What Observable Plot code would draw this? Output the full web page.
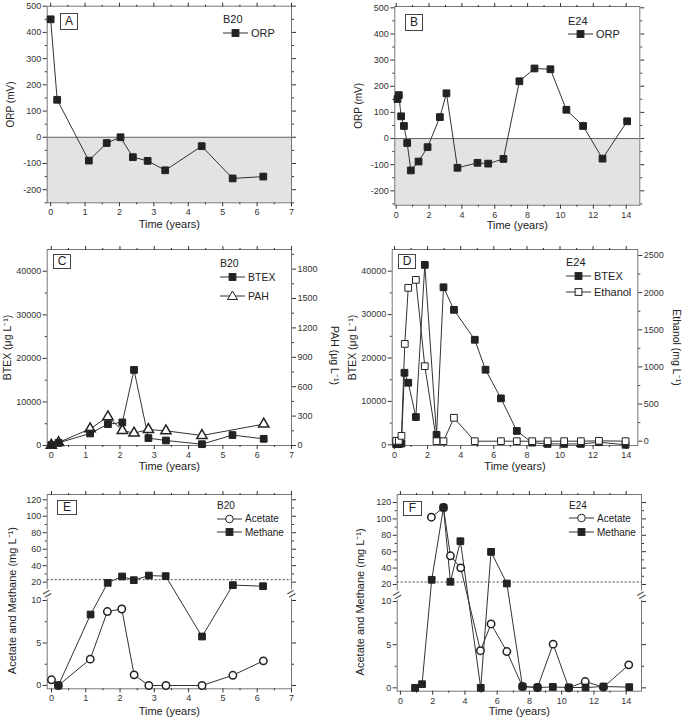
<!DOCTYPE html>
<html><head><meta charset="utf-8">
<script src="https://cdn.jsdelivr.net/npm/d3@7"></script>
<script src="https://cdn.jsdelivr.net/npm/@observablehq/plot@0.6"></script>
<style>
body{margin:0;background:#fff;font-family:"Liberation Sans",Arial,sans-serif;}
#root{position:relative;width:690px;height:720px;overflow:hidden;}
.panel{position:absolute;}
.tag{position:absolute;border:1px solid #444;font-size:12px;color:#222;text-align:center;box-sizing:border-box;background:#fff;}
.lg{position:absolute;color:#222;white-space:nowrap;display:flex;align-items:center;}
.lgt{position:absolute;color:#222;white-space:nowrap;}
</style></head>
<body><div id="root"></div>
<script>
// ---------- DATA ----------
// Panel A: B20 ORP
const b20OrpTime = [0, 0.19, 1.11, 1.63, 2.03, 2.39, 2.82, 3.33, 4.39, 5.29, 6.18];
const b20Orp = [450, 143, -89, -22, 0, -76, -90, -126, -34, -157, -150];
// Panel B: E24 ORP
const e24OrpTime = [0.08, 0.16, 0.30, 0.47, 0.67, 0.89, 1.36, 1.91, 2.66, 3.06, 3.73, 4.95, 5.60, 6.53, 7.50, 8.42, 9.39, 10.36, 11.38, 12.56, 14.06];
const e24Orp = [151, 166, 85, 48, -17, -122, -88, -33, 82, 173, -112, -93, -96, -78, 219, 268, 265, 110, 48, -77, 66];
// Panel C: B20 BTEX (ug/L) and PAH (ug/L)
const b20BtexTime = [0, 0.21, 1.13, 1.65, 2.07, 2.41, 2.83, 3.34, 4.39, 5.28, 6.19];
const b20Btex = [100, 600, 2760, 4900, 5300, 17350, 1700, 1150, 300, 2400, 1530];
const b20PahTime = [0, 0.21, 1.13, 1.65, 2.07, 2.41, 2.83, 3.34, 4.39, 6.19];
const b20Pah = [3, 30, 170, 293, 153, 126, 163, 150, 102, 218];
// Panel D: E24 BTEX (ug/L) and Ethanol (mg/L)
const e24BtexTime = [0.1, 0.26, 0.42, 0.6, 0.83, 1.29, 1.83, 2.54, 2.96, 3.59, 4.85, 5.5, 6.43, 7.39, 8.32, 9.25, 10.25, 11.26, 12.35, 13.96];
const e24Btex = [150, 150, 300, 16600, 14300, 6400, 41450, 2300, 36300, 31100, 24200, 17300, 10700, 3200, 500, 200, 200, 200, 600, 0];
const e24EthTime = [0.1, 0.26, 0.42, 0.62, 0.83, 1.29, 1.83, 2.54, 2.96, 3.59, 4.85, 6.43, 7.39, 8.32, 9.25, 10.25, 11.26, 12.35, 13.96];
const e24Eth = [5, 5, 72, 1310, 2065, 2172, 1010, 0, 0, 315, 0, 0, 0, 0, 0, 0, 0, 5, 0];
// Panel E: B20 acetate and methane (mg/L)
const b20AcetTime = [0, 0.2, 1.13, 1.63, 2.05, 2.41, 2.84, 3.34, 4.39, 5.29, 6.18];
const b20Acet = [0.67, 0, 3.1, 8.7, 9.0, 1.25, 0, 0, 0, 1.2, 2.9];
const b20MethTime = [0.2, 1.14, 1.64, 2.06, 2.4, 2.84, 3.33, 4.39, 5.29, 6.17];
const b20Meth = [0, 8.35, 19.2, 26.9, 22.4, 28, 27.3, 5.76, 16.4, 15.1];
// Panel F: E24 acetate and methane (mg/L)
const e24AcetTime = [1.92, 2.67, 3.10, 3.74, 4.96, 5.62, 6.6, 7.57, 8.5, 9.47, 10.44, 11.46, 12.59, 14.16];
const e24Acet = [102.1, 113.9, 55, 40.3, 4.3, 7.4, 4.2, 0.15, 0.04, 5.06, 0, 0.73, 0.08, 2.66];
const e24MethTime = [0.91, 1.34, 1.94, 2.67, 3.10, 3.72, 4.98, 5.62, 6.6, 7.57, 8.5, 9.45, 10.44, 11.48, 12.59, 14.19];
const e24Meth = [0, 0.42, 25.7, 113.9, 23.3, 72.8, 0, 59.8, 21.2, 0.15, 0.04, 0.1, 0.04, 0.04, 0.15, 0.08];
// Methane solubility reference line (mg/L)
const methaneLine = [23];

// Tick values
const ticks7 = [0,1,2,3,4,5,6,7], minor7 = [0.5,1.5,2.5,3.5,4.5,5.5,6.5];
const ticks14 = [0,2,4,6,8,10,12,14], minor14 = [1,3,5,7,9,11,13];
const orpTicks = [-200,-100,0,100,200,300,400,500], orpMinor = [-250,-150,-50,50,150,250,350,450];
const btexTicks = [0,10000,20000,30000,40000], btexMinor = [5000,15000,25000,35000];
const pahTicks = [0,300,600,900,1200,1500,1800], pahMinor = [150,450,750,1050,1350,1650,1950];
const ethTicks = [0,500,1000,1500,2000,2500], ethMinor = [250,750,1250,1750,2250];
const amTicks = [0,5,10,20,40,60,80,100,120], amMinor = [2.5,7.5,30,50,70,90,110];

// ---------- HELPERS ----------
const root = document.getElementById("root");
const INK = "#222", LINE = "#333", FRAME = "#777";
const FONT = "Liberation Sans, Arial, sans-serif";
const fmt = d => String(d);

function sq(x, y, filled) { return Plot.dot(y, {x, y, symbol: "square", r: 3.8, fill: filled ? INK : "#fff", stroke: INK, strokeWidth: 1}); }
function ln(x, y) { return Plot.line(y, {x, y, stroke: LINE, strokeWidth: 1}); }

function axes(c) {
  const fmtNone = () => "";
  const yT = c.yMap ? c.yTicks.map(c.yMap) : c.yTicks;
  const yM = c.yMap ? c.yMinor.map(c.yMap) : c.yMinor;
  const yF = c.yMap ? (d => String(Math.round(c.yMap.invert(d)))) : fmt;
  const a = [
    Plot.axisX({anchor: "bottom", ticks: c.xTicks, tickSize: 4, tickPadding: 2, tickFormat: fmt, label: null, color: "#333", fontSize: 9}),
    Plot.axisX({anchor: "bottom", ticks: c.xMinor, tickSize: 2, tickFormat: fmtNone, label: null, color: "#333"}),
    Plot.axisX({anchor: "top", ticks: c.xTicks, tickSize: 4, tickFormat: fmtNone, label: null, color: "#333"}),
    Plot.axisX({anchor: "top", ticks: c.xMinor, tickSize: 2, tickFormat: fmtNone, label: null, color: "#333"}),
    Plot.axisY({anchor: "left", ticks: yT, tickSize: 4, tickPadding: 2, tickFormat: yF, label: null, color: "#333", fontSize: 9}),
    Plot.axisY({anchor: "left", ticks: yM, tickSize: 2, tickFormat: fmtNone, label: null, color: "#333"})
  ];
  if (c.rTicks) {
    a.push(Plot.axisY({anchor: "right", ticks: c.rTicks, tickSize: 4, tickPadding: 2, tickFormat: c.rFormat, label: null, color: "#333", fontSize: 9}));
    a.push(Plot.axisY({anchor: "right", ticks: c.rMinor, tickSize: 2, tickFormat: fmtNone, label: null, color: "#333"}));
  } else {
    a.push(Plot.axisY({anchor: "right", ticks: yT, tickSize: 4, tickFormat: fmtNone, label: null, color: "#333"}));
    a.push(Plot.axisY({anchor: "right", ticks: yM, tickSize: 2, tickFormat: fmtNone, label: null, color: "#333"}));
  }
  a.push(Plot.text([c.xLabel], {frameAnchor: "bottom", dy: c.xLabelDy, fontSize: 11, fill: INK, textAnchor: "middle", text: d => d}));
  a.push(Plot.text([c.yLabel], {frameAnchor: "left", dx: -c.yLabelDx, dy: c.yLabelDy || 0, rotate: -90, textAnchor: "middle", fontSize: c.yLabelFs || 10.5, fill: INK, text: d => d}));
  if (c.rLabel) a.push(Plot.text([c.rLabel], {frameAnchor: "right", dx: c.rLabelDx, dy: c.rLabelDy || 0, rotate: 90, textAnchor: "middle", fontSize: 10.5, fill: INK, text: d => d}));
  return a;
}

function panel(c) {
  const svg = Plot.plot({
    width: c.width, height: c.height,
    marginLeft: c.ml, marginRight: c.mr, marginTop: c.mt, marginBottom: c.mb,
    style: {fontFamily: FONT, fontSize: "9px", color: "#333", background: "transparent", overflow: "visible"},
    x: {domain: c.xDomain},
    y: {domain: c.yDomain},
    marks: [...(c.under || []), Plot.frame({stroke: FRAME}), ...axes(c), ...c.marks]
  });
  const d = document.createElement("div");
  d.className = "panel";
  d.style.left = c.left + "px"; d.style.top = c.top + "px";
  d.appendChild(svg);
  root.appendChild(d);
}

function tag(txt, x, y, w, h) {
  const d = document.createElement("div");
  d.className = "tag"; d.textContent = txt;
  Object.assign(d.style, {left: x + "px", top: y + "px", width: w + "px", height: h + "px", lineHeight: (h - 2) + "px"});
  root.appendChild(d);
}
function symSvg(type) {
  const cx = 12.5, cy = 6;
  let s = "";
  if (type === "sqF") s = `<rect x="${cx-3.4}" y="${cy-3.4}" width="6.8" height="6.8" fill="${INK}" stroke="${INK}"/>`;
  if (type === "sqO") s = `<rect x="${cx-3.4}" y="${cy-3.4}" width="6.8" height="6.8" fill="#fff" stroke="${INK}"/>`;
  if (type === "triO") s = `<path d="M${cx},${cy-5}L${cx+5},${cy+3.5}L${cx-5},${cy+3.5}Z" fill="#fff" stroke="${INK}"/>`;
  if (type === "cirO") s = `<circle cx="${cx}" cy="${cy}" r="3.8" fill="#fff" stroke="${INK}"/>`;
  return `<svg width="25" height="12" style="overflow:visible"><line x1="0" x2="25" y1="${cy}" y2="${cy}" stroke="${LINE}"/>${s}</svg>`;
}
function legend(title, x, yTitle, entries, fs) {
  const t = document.createElement("div");
  t.className = "lgt"; t.textContent = title;
  Object.assign(t.style, {left: x + "px", top: (yTitle - fs * 0.6) + "px", fontSize: fs + "px"});
  root.appendChild(t);
  for (const e of entries) {
    const d = document.createElement("div");
    d.className = "lg";
    d.innerHTML = symSvg(e.sym) + `<span style="margin-left:3px;font-size:${fs}px">${e.label}</span>`;
    Object.assign(d.style, {left: x + "px", top: (e.y - 6) + "px", height: "12px"});
    root.appendChild(d);
  }
}

// ---------- PANEL A ----------
const xA = [-0.1, 7], yA = [-250, 500];
panel({
  left: 0, top: 0, width: 345, height: 235, ml: 46.7, mr: 54, mt: 5.7, mb: 32.7,
  xDomain: xA, yDomain: yA, xTicks: ticks7, xMinor: minor7, yTicks: orpTicks, yMinor: orpMinor,
  xLabel: "Time (years)", xLabelDy: 25, yLabel: "ORP (mV)", yLabelDx: 36, yLabelFs: 10,
  under: [
    Plot.rect([0], {x1: () => xA[0], x2: () => xA[1], y1: () => yA[0], y2: () => 0, fill: "#e3e3e3"}),
    Plot.ruleY([0], {stroke: "#666", strokeWidth: 1})
  ],
  marks: [ln(b20OrpTime, b20Orp), sq(b20OrpTime, b20Orp, true)]
});
// ---------- PANEL B ----------
const xB = [-0.085, 14.83], yB = [-255, 505];
panel({
  left: 345, top: 0, width: 345, height: 235, ml: 49.3, mr: 50.7, mt: 6, mb: 30.3,
  xDomain: xB, yDomain: yB, xTicks: ticks14, xMinor: minor14, yTicks: orpTicks, yMinor: orpMinor,
  xLabel: "Time (years)", xLabelDy: 24, yLabel: "ORP (mV)", yLabelDx: 36, yLabelFs: 10,
  under: [
    Plot.rect([0], {x1: () => xB[0], x2: () => xB[1], y1: () => yB[0], y2: () => 0, fill: "#e3e3e3"}),
    Plot.ruleY([0], {stroke: "#666", strokeWidth: 1})
  ],
  marks: [ln(e24OrpTime, e24Orp), sq(e24OrpTime, e24Orp, true)]
});
// ---------- PANEL C ----------
const yC = [0, 45000], pahDomain = [0, 2000];
const pahToY = d3.scaleLinear().domain(pahDomain).range(yC);
const b20PahY = b20Pah.map(pahToY);
panel({
  left: 0, top: 235, width: 345, height: 240, ml: 46.7, mr: 54, mt: 14, mb: 30,
  xDomain: [-0.12, 7], yDomain: yC, xTicks: ticks7, xMinor: minor7, yTicks: btexTicks, yMinor: btexMinor,
  rTicks: pahTicks.map(pahToY), rMinor: pahMinor.map(pahToY), rFormat: d => String(Math.round(pahToY.invert(d))),
  xLabel: "Time (years)", xLabelDy: 24, yLabel: "BTEX (μg L⁻¹)", yLabelDx: 40,
  rLabel: "PAH (μg L⁻¹)", rLabelDx: 43, rLabelDy: 8,
  marks: [
    ln(b20BtexTime, b20Btex), ln(b20PahTime, b20PahY),
    Plot.dot(b20PahY, {x: b20PahTime, y: b20PahY, symbol: "triangle", r: 3.8, fill: "#fff", stroke: INK}),
    sq(b20BtexTime, b20Btex, true)
  ]
});
// ---------- PANEL D ----------
const yD = [-160, 45000], ethDomain = [-58, 2581];
const ethToY = d3.scaleLinear().domain(ethDomain).range(yD);
const e24EthY = e24Eth.map(ethToY);
panel({
  left: 345, top: 235, width: 345, height: 240, ml: 46.7, mr: 52.7, mt: 14, mb: 30,
  xDomain: [-0.14, 14.7], yDomain: yD, xTicks: ticks14, xMinor: minor14, yTicks: btexTicks, yMinor: btexMinor,
  rTicks: ethTicks.map(ethToY), rMinor: ethMinor.map(ethToY), rFormat: d => String(Math.round(ethToY.invert(d))),
  xLabel: "Time (years)", xLabelDy: 24, yLabel: "BTEX (μg L⁻¹)", yLabelDx: 40,
  rLabel: "Ethanol (mg L⁻¹)", rLabelDx: 39,
  marks: [
    ln(e24EthTime, e24EthY), ln(e24BtexTime, e24Btex),
    sq(e24BtexTime, e24Btex, true), sq(e24EthTime, e24EthY, false)
  ]
});
// ---------- PANELS E, F (broken y axis: 0–10 lower segment, >14 upper segment) ----------
// Each broken axis maps concentrations onto a continuous "virtual" coordinate; ticks are mapped the same way.
const brkE = d3.scaleLinear().domain([-0.39, 10, 14, 126.4]).range([-213.3, -125, -111.6, -19]);
const brkF = d3.scaleLinear().domain([-0.39, 10, 14, 129.8]).range([-215.7, -126, -113.9, -19]);
function breakMarks(xd, brk) {
  return Plot.text(xd, {x: d => d, y: () => brk(12), text: () => "=", rotate: -30, fontSize: 15, fill: "#555", stroke: "#fff", strokeWidth: 3, paintOrder: "stroke"});
}
const xE = [-0.125, 7];
panel({
  left: 0, top: 475, width: 345, height: 245, ml: 46.7, mr: 54, mt: 19, mb: 31.7,
  xDomain: xE, yDomain: brkE.domain().filter((d, i, a) => i === 0 || i === a.length - 1).map(brkE), yMap: brkE,
  xTicks: ticks7, xMinor: minor7, yTicks: amTicks, yMinor: amMinor,
  xLabel: "Time (years)", xLabelDy: 26, yLabel: "Acetate and Methane (mg L⁻¹)", yLabelDx: 35, yLabelDy: 9, yLabelFs: 11,
  marks: [
    Plot.ruleY(methaneLine.map(brkE), {stroke: "#444", strokeDasharray: "2,2", strokeWidth: 1}),
    ln(b20AcetTime, b20Acet.map(brkE)), ln(b20MethTime, b20Meth.map(brkE)),
    Plot.dot(b20Acet, {x: b20AcetTime, y: b20Acet.map(brkE), r: 3.7, fill: "#fff", stroke: INK}),
    sq(b20MethTime, b20Meth.map(brkE), true),
    breakMarks(xE, brkE)
  ]
});
const xF = [-0.2, 14.95];
panel({
  left: 345, top: 475, width: 345, height: 245, ml: 51.7, mr: 49, mt: 19, mb: 29.3,
  xDomain: xF, yDomain: brkF.domain().filter((d, i, a) => i === 0 || i === a.length - 1).map(brkF), yMap: brkF,
  xTicks: ticks14, xMinor: minor14, yTicks: amTicks, yMinor: amMinor,
  xLabel: "Time (years)", xLabelDy: 24, yLabel: "Acetate and Methane (mg L⁻¹)", yLabelDx: 37, yLabelDy: 9, yLabelFs: 11,
  marks: [
    Plot.ruleY(methaneLine.map(brkF), {stroke: "#444", strokeDasharray: "2,2", strokeWidth: 1}),
    ln(e24AcetTime, e24Acet.map(brkF)), ln(e24MethTime, e24Meth.map(brkF)),
    Plot.dot(e24Acet, {x: e24AcetTime, y: e24Acet.map(brkF), r: 3.7, fill: "#fff", stroke: INK}),
    sq(e24MethTime, e24Meth.map(brkF), true),
    breakMarks(xF, brkF)
  ]
});

// ---------- TAGS & LEGENDS ----------
tag("A", 60, 13, 18, 17);
tag("B", 405, 14, 18, 17);
tag("C", 53, 254, 18, 15);
tag("D", 398, 254, 18, 15);
tag("E", 57, 500, 20, 15);
tag("F", 403, 501, 19, 15);

legend("B20", 223, 20, [{sym: "sqF", label: "ORP", y: 33}], 11);
legend("E24", 568, 22, [{sym: "sqF", label: "ORP", y: 34.3}], 11);
legend("B20", 220, 263, [{sym: "sqF", label: "BTEX", y: 277.3}, {sym: "triO", label: "PAH", y: 295.7}], 10.5);
legend("E24", 566, 263, [{sym: "sqF", label: "BTEX", y: 275.7}, {sym: "sqO", label: "Ethanol", y: 291.7}], 11);
legend("B20", 217, 506, [{sym: "cirO", label: "Acetate", y: 518.7}, {sym: "sqF", label: "Methane", y: 532}], 10);
legend("E24", 569, 506, [{sym: "cirO", label: "Acetate", y: 518.3}, {sym: "sqF", label: "Methane", y: 532}], 10);
</script>
</body></html>
